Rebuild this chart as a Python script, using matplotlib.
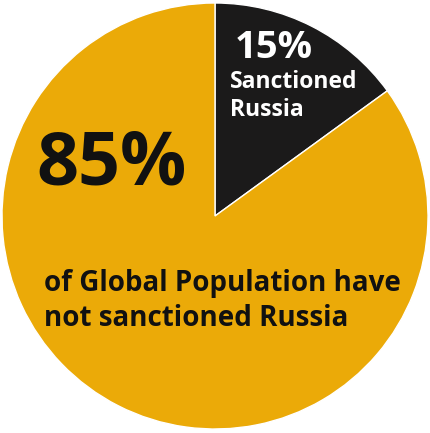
import matplotlib
matplotlib.use("Agg")
import matplotlib.pyplot as plt

labels = ["Sanctioned Russia", "Have not sanctioned Russia"]
shares = [15, 85]
colors = ["#1b1a1a", "#ebaa08"]

W, H, DPI = 431, 433, 100
fig = plt.figure(figsize=(W / DPI, H / DPI), dpi=DPI)
ax = fig.add_axes([0, 0, 1, 1])

cx, cy, r = 215, 216, 213  # pie centre / radius in pixels


def px(x, y):
    return (x - cx) / r, (cy - y) / r


ax.pie(shares, colors=colors, startangle=90, counterclock=False, radius=1.0,
       center=(0, 0), wedgeprops=dict(edgecolor="white", linewidth=1.0))
ax.set_xlim(-cx / r, (W - cx) / r)
ax.set_ylim(-(H - cy) / r, cy / r)
ax.set_aspect("equal")
ax.axis("off")

font = "Open Sans"
ax.text(*px(235, 58), f"{shares[0]}%", color="white", fontsize=27.5,
        fontweight="bold", family=font, ha="left", va="baseline")
ax.text(*px(230, 88), "Sanctioned", color="white", fontsize=16.5,
        fontweight="bold", family=font, ha="left", va="baseline")
ax.text(*px(230, 116), "Russia", color="white", fontsize=16.5,
        fontweight="bold", family=font, ha="left", va="baseline")

ax.text(*px(36, 185), f"{shares[1]}%", color="#111111", fontsize=53,
        fontweight="bold", family=font, ha="left", va="baseline")
ax.text(*px(44, 291), "of Global Population have", color="#111111",
        fontsize=20, fontweight="bold", family=font, ha="left", va="baseline")
ax.text(*px(44, 326), "not sanctioned Russia", color="#111111",
        fontsize=20, fontweight="bold", family=font, ha="left", va="baseline")

fig.savefig("out.png", dpi=DPI, facecolor="white")
